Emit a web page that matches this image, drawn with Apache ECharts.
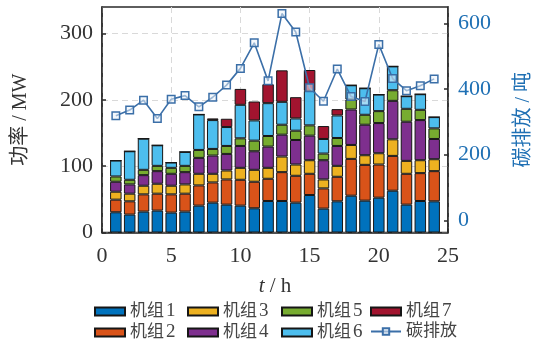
<!DOCTYPE html>
<html>
<head>
<meta charset="utf-8">
<script src="https://cdn.jsdelivr.net/npm/echarts@6/dist/echarts.min.js"></script>
<style>
  html, body { margin: 0; padding: 0; background: #fff; }
  #chart { width: 539px; height: 349px; }
</style>
</head>
<body>
<div id="chart"></div>
<script>
// Hourly output of seven generating units (MW) and carbon emission (t)
const hours = [1, 2, 3, 4, 5, 6, 7, 8, 9, 10, 11, 12, 13, 14, 15, 16, 17, 18, 19, 20, 21, 22, 23, 24];
const unitNames = ['机组1', '机组2', '机组3', '机组4', '机组5', '机组6', '机组7'];
const unit1 = [30.5, 27, 31.5, 33, 30, 31.5, 40.5, 45, 42, 40.5, 36.5, 47.5, 47.5, 45, 56.5, 36, 47, 55.5, 48, 52.5, 63, 42, 47.5, 47];
const unit2 = [19, 20, 26, 25.5, 27.5, 27, 30.5, 30.5, 38, 39, 40, 33.5, 43.5, 40.5, 32, 30.5, 37, 55.5, 54, 50, 52.5, 46.5, 42, 45.5];
const unit3 = [12, 11.5, 13, 15, 13, 14, 17.5, 13, 13.5, 18, 18, 16.5, 23.5, 17, 20.5, 13.5, 16.5, 21, 14.5, 17, 25, 19.5, 19.5, 18];
const unit4 = [15, 14, 16, 19, 18, 18.5, 24, 27.5, 25, 33, 28, 32, 33, 37, 37, 29, 30, 53.5, 46, 45.5, 58, 59, 60.5, 30.5];
const unit5 = [8, 7, 8, 8, 9, 9.5, 12, 10, 12, 11.5, 16, 16, 15, 14, 15.5, 10, 12, 15, 15, 18, 16, 19.5, 15.5, 16];
const unit6 = [24, 43, 47, 31, 8, 21, 53.5, 43.5, 28.5, 50.5, 30.5, 49.5, 34.5, 18.5, 52, 22, 34, 21.5, 40, 25, 36, 19, 23.5, 17];
const unit7 = [0, 0, 0, 0, 0, 0, 0, 2.5, 12.5, 24, 28.5, 28.5, 47.5, 32, 31.5, 19.5, 9.5, 0, 0, 0, 0, 0, 0, 0];
const carbon = [319, 336, 366, 310, 369, 380, 346, 375, 412, 463, 541, 425, 630, 574, 404, 363, 461, 377, 362, 536, 432, 395, 410, 431];
const hourTicks = [0, 5, 10, 15, 20, 25];
const powerTicks = [0, 100, 200, 300];
const carbonTicks = [0, 200, 400, 600];

// The time axis runs from hour 0 to hour 25; hours 1..24 carry data.
const axisHours = [0, ...hours, 25];
const padded = vals => [null, ...vals, null];
const onTick = idx => hourTicks.includes(axisHours[idx]);

const unitValues = [unit1, unit2, unit3, unit4, unit5, unit6, unit7];
const unitColors = ['#0072BD', '#D95319', '#EDB120', '#7E2F8E', '#77AC30', '#4DBEEE', '#A2142F'];
const lineColor = '#3b6fa8';
const blueText = '#1f70b4';
const axisColor = '#2a2a2a';
const numFont = "'Liberation Serif', 'Noto Sans CJK SC', serif";

const barSeries = unitValues.map((vals, i) => ({
  name: unitNames[i],
  type: 'bar',
  stack: 'power',
  barWidth: 11.5,
  yAxisIndex: 0,
  data: padded(vals),
  itemStyle: { color: unitColors[i], borderColor: '#161616', borderWidth: 1 },
  emphasis: { disabled: true }
}));

const lineSeries = {
  name: '碳排放',
  type: 'line',
  yAxisIndex: 1,
  data: padded(carbon),
  symbol: 'rect',
  symbolSize: 7.5,
  lineStyle: { color: lineColor, width: 1.6 },
  itemStyle: { color: 'rgba(235,242,250,0.55)', borderColor: lineColor, borderWidth: 1.5 },
  z: 5
};

const legendText = {
  fontFamily: numFont, fontSize: 17, color: '#444',
  rich: { d: { fontFamily: numFont, fontSize: 19, color: '#444', padding: [0, 0, 0, 2] } }
};
const legendCols = [
  { left: 94, items: [{ name: '机组1', icon: 'rect' }, { name: '机组2', icon: 'rect' }] },
  { left: 187, items: [{ name: '机组3', icon: 'rect' }, { name: '机组4', icon: 'rect' }] },
  { left: 281, items: [{ name: '机组5', icon: 'rect' }, { name: '机组6', icon: 'rect' }] },
  { left: 370, items: [{ name: '机组7', icon: 'rect' }, { name: '碳排放' }] }
];

const option = {
  animation: false,
  backgroundColor: '#fff',
  grid: {
    left: 102, right: 91, top: 7, bottom: 116.5,
    containLabel: false,
    outerBoundsMode: 'none',
    show: true, borderColor: axisColor, borderWidth: 1.5, backgroundColor: 'transparent'
  },
  legend: legendCols.map(col => ({
    orient: 'vertical',
    left: col.left,
    top: 302,
    itemWidth: 30,
    itemHeight: 8,
    itemGap: 2,
    padding: 0,
    textStyle: legendText,
    selectedMode: false,
    formatter: name => name.replace(/(\d)$/, '{d|$1}'),
    data: col.items
  })),
  xAxis: {
    type: 'category',
    data: axisHours.map(String),
    boundaryGap: false,
    name: '{i|t} / h',
    nameLocation: 'middle',
    nameGap: 43,
    nameTextStyle: {
      fontFamily: numFont, fontSize: 21, color: '#333',
      rich: { i: { fontFamily: numFont, fontSize: 21, fontStyle: 'italic', color: '#333' } }
    },
    axisLine: { show: true, lineStyle: { color: axisColor, width: 1.5 } },
    axisTick: { show: true, inside: true, length: 4, interval: onTick, lineStyle: { color: axisColor, width: 1.5 } },
    axisLabel: { fontFamily: numFont, fontSize: 22, color: '#333', margin: 13, interval: onTick },
    splitLine: { show: true, interval: onTick, lineStyle: { color: '#d9d9d9', type: [6, 4], width: 1 } }
  },
  yAxis: [
    {
      type: 'value',
      min: 0, max: 340, interval: 50,
      name: '功率 / MW',
      nameLocation: 'middle',
      nameGap: 71,
      nameTextStyle: { fontFamily: numFont, fontSize: 20, color: '#333' },
      axisLine: { show: true, lineStyle: { color: axisColor, width: 1.5 } },
      axisTick: { show: true, inside: true, length: 4, customValues: powerTicks, lineStyle: { color: axisColor, width: 1.5 } },
      axisLabel: { fontFamily: numFont, fontSize: 22, color: '#333', margin: 9, customValues: powerTicks },
      splitLine: { show: true, lineStyle: { color: '#d9d9d9', type: [6, 4], width: 1 } }
    },
    {
      type: 'value',
      position: 'right',
      min: -37, max: 650,
      name: '碳排放 / 吨',
      nameLocation: 'middle',
      nameGap: 66,
      nameRotate: 90,
      nameTextStyle: { fontFamily: numFont, fontSize: 20, color: blueText },
      axisLine: { show: true, lineStyle: { color: axisColor, width: 1.5 } },
      axisTick: { show: true, inside: true, length: 4, customValues: carbonTicks, lineStyle: { color: axisColor, width: 1.5 } },
      axisLabel: { fontFamily: numFont, fontSize: 22, color: blueText, margin: 10, customValues: carbonTicks },
      splitLine: { show: false }
    }
  ],
  series: [...barSeries, lineSeries]
};

const chart = echarts.init(document.getElementById('chart'), null, { renderer: 'canvas' });
chart.setOption(option);
</script>
</body>
</html>
